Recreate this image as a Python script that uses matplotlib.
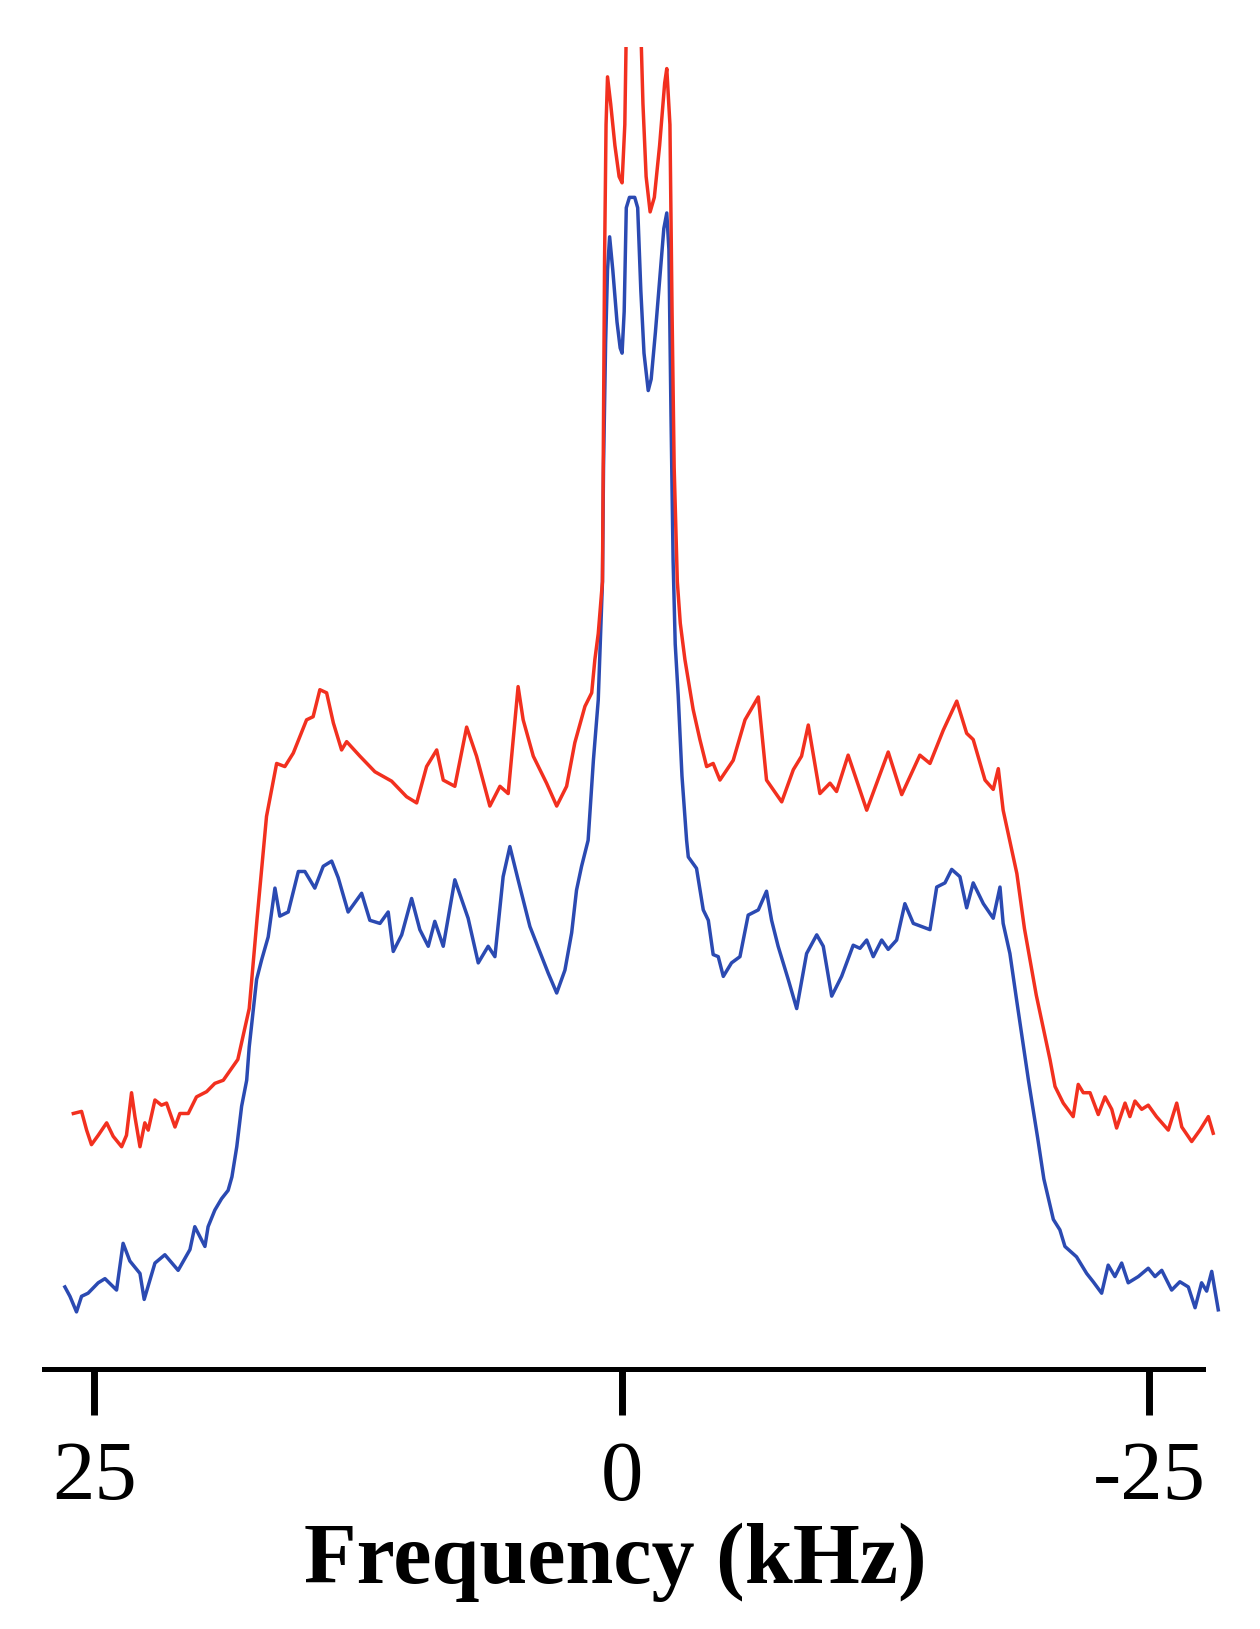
import matplotlib
matplotlib.use('agg')
import matplotlib.pyplot as plt

# spectra: frequency in kHz, intensity in arbitrary units
red_freq = [26.00, 25.61, 25.37, 25.14, 24.82, 24.42, 24.11, 23.71, 23.48, 23.24,
            23.08, 22.84, 22.61, 22.45, 22.13, 21.82, 21.58, 21.18, 20.95, 20.55,
            20.16, 19.68, 19.29, 18.89, 18.20, 17.66, 17.29, 16.84, 16.36, 15.97,
            15.57, 14.94, 14.63, 14.31, 13.99, 13.67, 13.28, 13.04, 12.41, 11.70,
            10.91, 10.20, 9.72, 9.25, 8.77, 8.46, 7.91, 7.35, 6.88, 6.25,
            5.77, 5.38, 4.91, 4.67, 4.19, 3.56, 3.08, 2.61, 2.22, 1.74,
            1.42, 1.27, 1.11, 0.91, 0.86, 0.81, 0.74, 0.67, 0.52, 0.32,
            0.12, -0.02, -0.15, -0.22, -0.57, -0.91, -1.01, -1.16, -1.35, -1.55,
            -1.80, -2.04, -2.14, -2.29, -2.39, -2.49, -2.64, -2.78, -3.00, -3.39,
            -3.71, -4.03, -4.34, -4.66, -5.29, -5.85, -6.48, -6.87, -7.59, -8.14,
            -8.53, -8.85, -9.40, -9.88, -10.19, -10.74, -11.62, -12.64, -13.28, -14.14,
            -14.62, -15.25, -15.89, -16.36, -16.67, -17.23, -17.62, -17.86, -18.09, -18.74,
            -19.10, -19.66, -20.31, -20.55, -20.94, -21.41, -21.65, -21.89, -22.21, -22.60,
            -22.92, -23.24, -23.47, -23.87, -24.10, -24.34, -24.66, -24.97, -25.36, -25.92,
            -26.32, -26.56, -27.03, -27.42, -27.82, -28.05]
red_int = [24.6, 24.8, 23.0, 21.6, 22.5, 23.7, 22.4, 21.4, 22.5, 26.6,
           24.3, 21.4, 23.7, 23.0, 25.9, 25.4, 25.6, 23.3, 24.6, 24.6,
           26.2, 26.7, 27.5, 27.8, 29.8, 34.7, 43.3, 53.2, 58.3, 58.0,
           59.3, 62.5, 62.8, 65.4, 65.1, 62.2, 59.6, 60.4, 59.0, 57.5,
           56.6, 55.1, 54.5, 58.0, 59.6, 56.7, 56.1, 61.8, 59.0, 54.2,
           56.1, 55.4, 65.7, 62.5, 59.0, 56.4, 54.2, 56.1, 60.3, 63.8,
           65.1, 68.3, 70.8, 75.8, 91.8, 106.8, 119.8, 124.4, 121.8, 117.8,
           114.8, 114.2, 119.8, 129.0, 129.0, 129.0, 121.8, 114.8, 111.4, 112.8,
           117.8, 123.8, 125.2, 119.8, 101.8, 86.8, 75.8, 71.8, 68.3, 63.5,
           60.6, 58.0, 58.3, 56.7, 58.6, 62.5, 64.7, 56.7, 54.6, 57.7,
           59.0, 62.0, 55.4, 56.4, 55.6, 59.1, 53.8, 59.4, 55.3, 59.1,
           58.3, 61.5, 64.3, 61.2, 60.6, 56.7, 55.8, 57.8, 53.8, 47.7,
           42.4, 36.0, 29.8, 27.2, 25.6, 24.3, 27.4, 26.6, 26.6, 24.5,
           26.2, 25.0, 23.2, 25.6, 24.3, 25.8, 25.0, 25.4, 24.3, 23.0,
           25.6, 23.3, 21.9, 23.0, 24.3, 22.7]

blue_freq = [26.40, 26.16, 25.85, 25.61, 25.30, 24.82, 24.50, 23.95, 23.64, 23.32,
             22.84, 22.64, 22.13, 21.66, 21.03, 20.47, 20.24, 19.76, 19.61, 19.29,
             18.97, 18.66, 18.48, 18.25, 18.02, 17.78, 17.66, 17.31, 17.07, 16.76,
             16.44, 16.21, 15.81, 15.33, 15.02, 14.55, 14.15, 13.75, 13.44, 12.97,
             12.33, 11.94, 11.46, 11.07, 10.83, 10.43, 9.96, 9.57, 9.17, 8.86,
             8.46, 7.91, 7.28, 6.80, 6.33, 6.01, 5.62, 5.30, 4.91, 4.35,
             3.79, 3.48, 3.08, 2.69, 2.37, 2.14, 1.90, 1.59, 1.34, 1.11,
             0.91, 0.86, 0.76, 0.67, 0.57, 0.42, 0.22, 0.07, -0.02, -0.12,
             -0.22, -0.37, -0.62, -0.76, -0.91, -1.06, -1.26, -1.40, -1.60, -1.80,
             -2.00, -2.14, -2.24, -2.34, -2.44, -2.54, -2.68, -2.86, -3.08, -3.16,
             -3.55, -3.87, -4.11, -4.34, -4.58, -4.82, -5.21, -5.61, -6.00, -6.48,
             -6.87, -7.11, -7.42, -7.90, -8.30, -8.77, -9.25, -9.56, -9.96, -10.43,
             -10.98, -11.30, -11.62, -11.93, -12.33, -12.64, -13.04, -13.43, -13.83, -14.62,
             -14.94, -15.33, -15.65, -16.04, -16.36, -16.67, -17.15, -17.62, -17.94, -18.09,
             -18.41, -18.73, -19.29, -19.73, -20.02, -20.47, -20.78, -21.02, -21.57, -22.05,
             -22.36, -22.76, -23.07, -23.39, -23.71, -24.02, -24.50, -24.97, -25.29, -25.61,
             -26.08, -26.47, -26.87, -27.19, -27.50, -27.74, -27.98, -28.29]
blue_int = [7.9, 7.0, 5.5, 7.0, 7.3, 8.3, 8.7, 7.6, 12.1, 10.4,
            9.2, 6.7, 10.2, 11.0, 9.5, 11.5, 13.7, 11.8, 13.7, 15.3,
            16.4, 17.2, 18.5, 21.4, 25.3, 27.8, 31.0, 37.5, 39.4, 41.6,
            46.3, 43.6, 44.0, 47.9, 47.9, 46.3, 48.4, 48.9, 47.3, 44.0,
            45.8, 43.2, 42.9, 44.0, 40.2, 41.8, 45.3, 42.3, 40.7, 43.1,
            40.7, 47.1, 43.4, 39.1, 40.7, 39.7, 47.4, 50.3, 47.1, 42.6,
            39.7, 38.1, 36.2, 38.4, 42.0, 46.1, 48.4, 50.9, 58.6, 64.4,
            75.8, 86.8, 98.8, 105.8, 109.0, 105.8, 100.8, 98.3, 97.8, 101.8,
            111.8, 112.8, 112.8, 111.8, 103.8, 97.8, 94.2, 95.3, 99.8, 104.8,
            109.8, 111.3, 107.8, 91.8, 77.8, 69.8, 64.9, 57.1, 50.9, 49.3,
            48.2, 44.2, 43.2, 39.9, 39.7, 37.8, 39.1, 39.7, 43.7, 44.2,
            46.0, 43.2, 40.7, 37.5, 34.7, 40.0, 41.8, 40.7, 35.9, 37.8,
            40.8, 40.5, 41.3, 39.7, 41.3, 40.4, 41.3, 44.8, 42.9, 42.3,
            46.4, 46.8, 48.1, 47.4, 44.4, 46.8, 44.8, 43.4, 46.4, 42.9,
            40.0, 35.5, 27.8, 22.2, 18.3, 14.4, 13.4, 11.8, 10.8, 9.2,
            8.4, 7.3, 10.0, 8.9, 10.2, 8.3, 8.9, 9.7, 8.9, 9.5,
            7.6, 8.4, 7.9, 5.9, 8.3, 7.5, 9.4, 5.7]

tick_pos = [25, 0, -25]
tick_labels = ['25', '0', '-25']
x_label = 'Frequency (kHz)'


def plot_spectra():
    fig = plt.figure(figsize=(12.6, 16.29), dpi=100)
    ax = fig.add_axes([0.0346, 0.1596, 0.9383, 0.8117])
    ax.plot(blue_freq, blue_int, color='#2B4AB2', lw=2.5)
    ax.plot(red_freq, red_int, color='#F2301F', lw=2.5)
    ax.set_xlim(27.41, -28.65)
    ax.set_ylim(0, 127.3)

    for s in ['top', 'right', 'left']:
        ax.spines[s].set_visible(False)
    ax.spines['bottom'].set_linewidth(3.6)
    ax.spines['bottom'].set_bounds(27.41, -27.56)
    ax.set_yticks([])
    ax.set_xticks(tick_pos)
    ax.set_xticklabels(tick_labels, fontfamily='Liberation Serif', fontsize=61)
    ax.tick_params(axis='x', direction='out', length=33, width=5, pad=19)
    ax.set_xlabel(x_label, fontfamily='Liberation Serif', fontsize=62,
                  fontweight='bold', labelpad=3, x=0.484)
    fig.savefig('out.png', dpi=100)


if __name__ == "__main__":
    plot_spectra()
